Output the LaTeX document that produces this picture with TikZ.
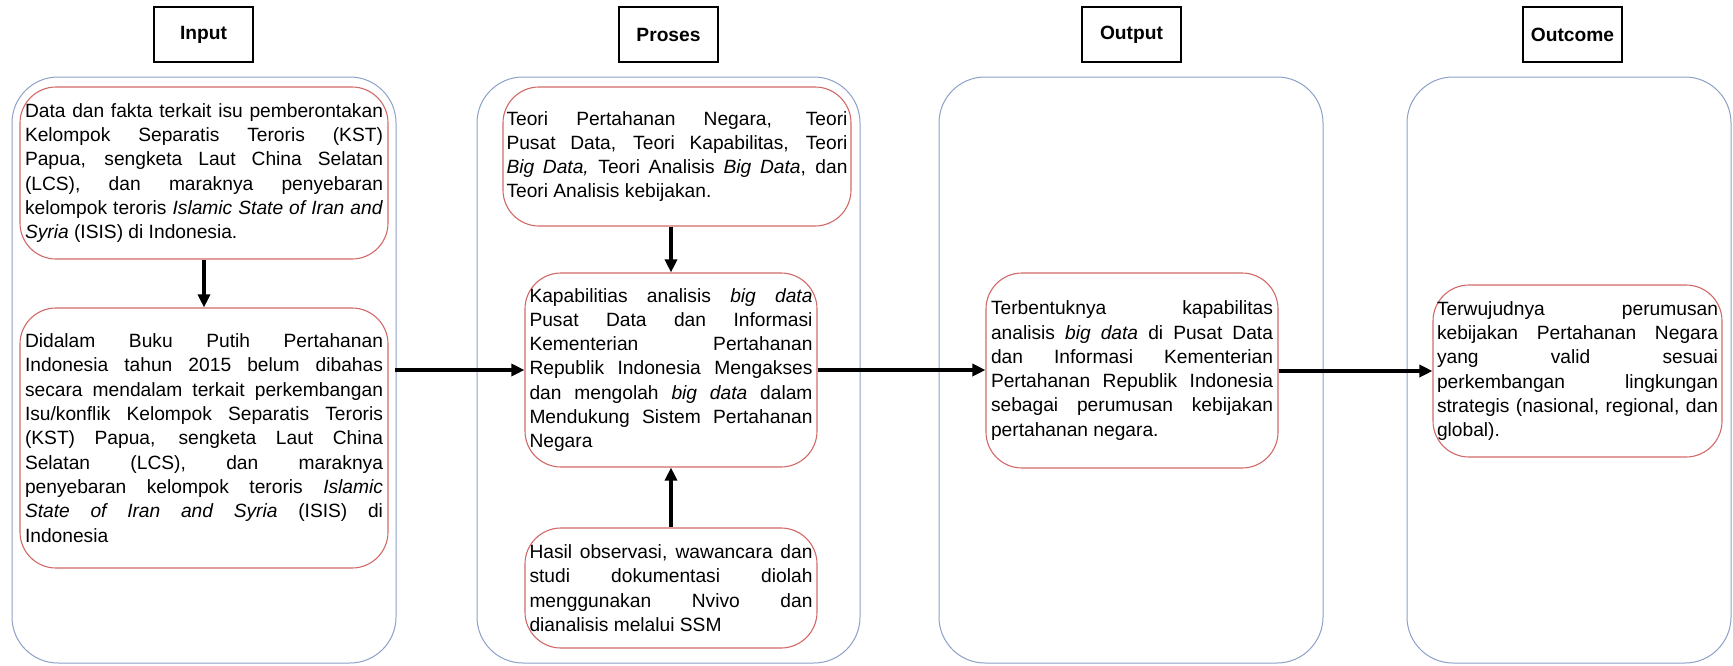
\documentclass[tikz,border=0pt]{standalone}
\usepackage{fontspec}
\setmainfont{Liberation Sans}
\usetikzlibrary{arrows.meta,calc}
\definecolor{outerblue}{RGB}{140,160,200}
\definecolor{boxred}{RGB}{210,105,105}
\tolerance=10000
\hbadness=10000
\hyphenpenalty=10000
\exhyphenpenalty=10000
\tikzset{
  container/.style={draw=outerblue, line width=1pt, rounded corners=46pt, inner sep=0pt},
  redbox/.style={draw=boxred, line width=1.1pt, rounded corners=36pt, inner sep=0pt, align=justify},
  header/.style={draw=black, line width=1.8pt, inner sep=0pt, minimum width=99pt, minimum height=55pt, font=\fontsize{19.2}{23}\selectfont\bfseries},
  flow/.style={line width=3.2pt, -{Triangle[length=13pt,width=12pt]}},
}
\begin{document}
\begin{tikzpicture}[x=1pt,y=-1pt, font=\fontsize{19.2}{24.3}\selectfont]
\useasboundingbox (0,0) rectangle (1733,665);
% headers
\node[header] (hIn) at (203.5,34.5) {Input};
\node[header] (hPro) at (668.5,34.5) {Proses};
\node[header] (hOut) at (1131.5,34.5) {Output};
\node[header] (hOutc) at (1572.5,34.5) {Outcome};
% containers
\node[container, minimum width=384pt, minimum height=586pt] (cIn) at (204,370) {};
\node[container, minimum width=383pt, minimum height=586pt] (cPro) at (668.5,370) {};
\node[container, minimum width=384pt, minimum height=586pt] (cOut) at (1131,370) {};
\node[container, minimum width=324pt, minimum height=586pt] (cOutc) at (1569,370) {};
% red boxes
\node[redbox, minimum width=368pt, minimum height=172pt, text width=358pt] (in1) at (204,173) {%
Data dan fakta terkait isu pemberontakan\linebreak
Kelompok Separatis Teroris (KST)\linebreak
Papua, sengketa Laut China Selatan\linebreak
(LCS), dan maraknya penyebaran\linebreak
kelompok teroris \textit{Islamic State of Iran and}\linebreak
\textit{Syria} (ISIS) di Indonesia.};
\node[redbox, minimum width=368pt, minimum height=260pt, text width=358pt] (in2) at (204,438) {%
Didalam Buku Putih Pertahanan\linebreak
Indonesia tahun 2015 belum dibahas\linebreak
secara mendalam terkait perkembangan\linebreak
Isu/konflik Kelompok Separatis Teroris\linebreak
(KST) Papua, sengketa Laut China\linebreak
Selatan (LCS), dan maraknya\linebreak
penyebaran kelompok teroris \textit{Islamic}\linebreak
\textit{State of Iran and Syria} (ISIS) di\linebreak
Indonesia};
\node[redbox, minimum width=348pt, minimum height=139pt, text width=341pt] (teori) at (677,156.5) {%
Teori Pertahanan Negara, Teori\linebreak
Pusat Data, Teori Kapabilitas, Teori\linebreak
\textit{Big Data,} Teori Analisis \textit{Big Data}, dan\linebreak
Teori Analisis kebijakan.};
\node[redbox, minimum width=292pt, minimum height=194pt, text width=283pt] (kap) at (671,370) {%
Kapabilitias analisis \textit{big data}\linebreak
Pusat Data dan Informasi\linebreak
Kementerian Pertahanan\linebreak
Republik Indonesia Mengakses\linebreak
dan mengolah \textit{big data} dalam\linebreak
Mendukung Sistem Pertahanan\linebreak
Negara};
\node[redbox, minimum width=292pt, minimum height=120pt, text width=283pt] (hasil) at (671,588) {%
Hasil observasi, wawancara dan\linebreak
studi dokumentasi diolah\linebreak
menggunakan Nvivo dan\linebreak
dianalisis melalui SSM};
\node[redbox, minimum width=292pt, minimum height=195pt, text width=282pt] (out) at (1132,370.5) {%
Terbentuknya kapabilitas\linebreak
analisis \textit{big data} di Pusat Data\linebreak
dan Informasi Kementerian\linebreak
Pertahanan Republik Indonesia\linebreak
sebagai perumusan kebijakan\linebreak
pertahanan negara.};
\node[redbox, minimum width=289pt, minimum height=172pt, text width=281pt] (outc) at (1577.5,371) {%
Terwujudnya perumusan\linebreak
kebijakan Pertahanan Negara\linebreak
yang valid sesuai\linebreak
perkembangan lingkungan\linebreak
strategis (nasional, regional, dan\linebreak
global).};
% connectors
\draw[flow] (in1.south) -- (in2.north);
\draw[flow] (teori.south -| kap.north) -- (kap.north);
\draw[flow] (hasil.north) -- (kap.south);
\draw[flow, shorten <=6pt] (kap.west -| in2.east) -- (kap.west);
\draw[flow] (kap.east) -- (kap.east -| out.west);
\draw[flow] (out.east |- outc.west) -- (outc.west);
\end{tikzpicture}
\end{document}
